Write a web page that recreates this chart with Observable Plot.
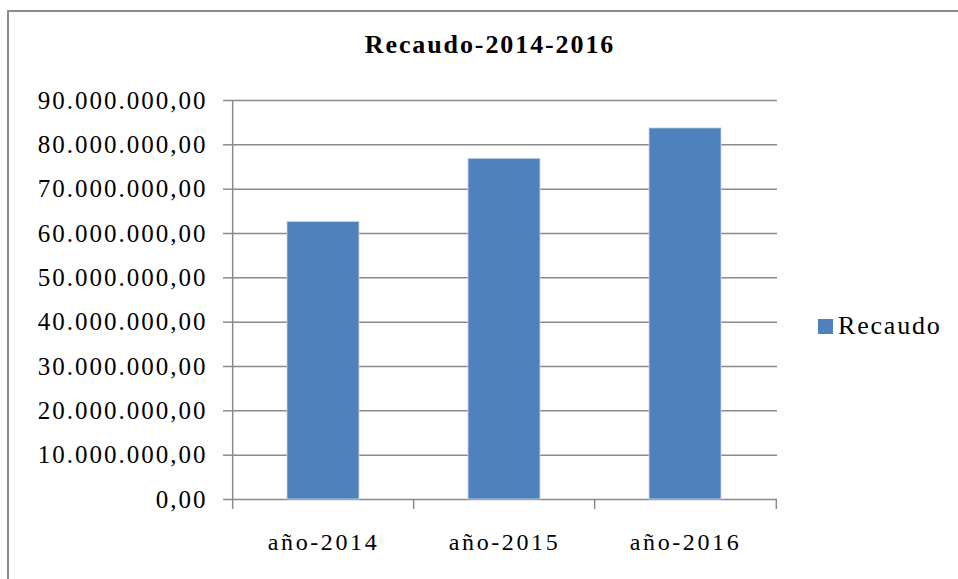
<!DOCTYPE html>
<html>
<head>
<meta charset="utf-8">
<script src="https://cdn.jsdelivr.net/npm/d3@7"></script>
<script src="https://cdn.jsdelivr.net/npm/@observablehq/plot@0.6"></script>
<style>
  html, body { margin: 0; padding: 0; background: #fff; }
  #wrap { position: relative; width: 958px; height: 579px; overflow: hidden; font-family: "Liberation Serif", "Times New Roman", serif; }
  #frame { position: absolute; left: 7px; top: 10px; width: 1000px; height: 700px; border-left: 2px solid #8c8c8c; border-top: 2px solid #8c8c8c; }
  #title { position: absolute; left: 0; top: 30px; width: 980px; text-align: center; font-weight: bold; font-size: 26px; letter-spacing: 1.9px; color: #000; }
  #legend { position: absolute; left: 818px; top: 311px; font-size: 26px; letter-spacing: 1.8px; color: #000; display: flex; align-items: center; }
  #legend .sw { width: 15px; height: 15px; background: #4F81BD; margin-right: 5px; }
  #chart { position: absolute; left: 0; top: 0; }
  #chart svg text { font-family: "Liberation Serif", "Times New Roman", serif !important; fill: #000; }
  #chart svg .yax text { font-size: 25px !important; letter-spacing: 2px; }
  #chart svg .xax text { font-size: 24px !important; letter-spacing: 2.6px; }
</style>
</head>
<body>
<div id="wrap">
  <div id="frame"></div>
  <div id="title"></div>
  <div id="chart"></div>
  <div id="legend"><div class="sw"></div><span id="legname"></span></div>
</div>
<script>
const title = "Recaudo-2014-2016";
const seriesName = "Recaudo";
const categories = ["año-2014", "año-2015", "año-2016"];
const values = [62600000, 76850000, 83700000];
const yTicks = [0, 10000000, 20000000, 30000000, 40000000, 50000000, 60000000, 70000000, 80000000, 90000000];

const data = categories.map((c, i) => ({cat: c, value: values[i]}));
const esFmt = d3.formatLocale({decimal: ",", thousands: ".", grouping: [3], currency: ["", ""]}).format(",.2f");

const W = 958, H = 579, ML = 232, MR = 181, MT = 100, MB = 80;
const step = (W - ML - MR) / categories.length;
const grid = "#8a8a8a";

document.getElementById("title").textContent = title;
document.getElementById("legname").textContent = seriesName;

const last = categories[categories.length - 1];

const plot = Plot.plot({
  width: W,
  height: H,
  marginLeft: ML,
  marginRight: MR,
  marginTop: MT,
  marginBottom: MB,
  x: {domain: categories, paddingInner: 0.6, paddingOuter: 0.3},
  y: {domain: [0, 90000000], label: null},
  marks: [
    Plot.ruleY(yTicks, {stroke: grid, strokeWidth: 1.5}),
    Plot.barY(data, {x: "cat", y: "value", fill: "#4F81BD", stroke: "#c8d8ec", strokeWidth: 0.8}),
    Plot.ruleX([categories[0]], {x: d => d, dx: -step / 2, y1: 0, y2: 90000000, stroke: grid, strokeWidth: 1.5}),
    Plot.ruleX(categories, {x: d => d, dx: -step / 2, y1: 0, y2: 0, insetBottom: -10, stroke: grid, strokeWidth: 1.5}),
    Plot.ruleX([last], {x: d => d, dx: step / 2, y1: 0, y2: 0, insetBottom: -10, stroke: grid, strokeWidth: 1.5}),
    Plot.axisY({ticks: yTicks, tickFormat: esFmt, tickSize: 9, tickPadding: 16, stroke: grid, strokeWidth: 1.5, label: null, fontSize: 25, className: "yax"}),
    Plot.axisX({tickSize: 0, tickPadding: 33, label: null, fontSize: 24, className: "xax"})
  ]
});
document.getElementById("chart").appendChild(plot);
</script>
</body>
</html>
